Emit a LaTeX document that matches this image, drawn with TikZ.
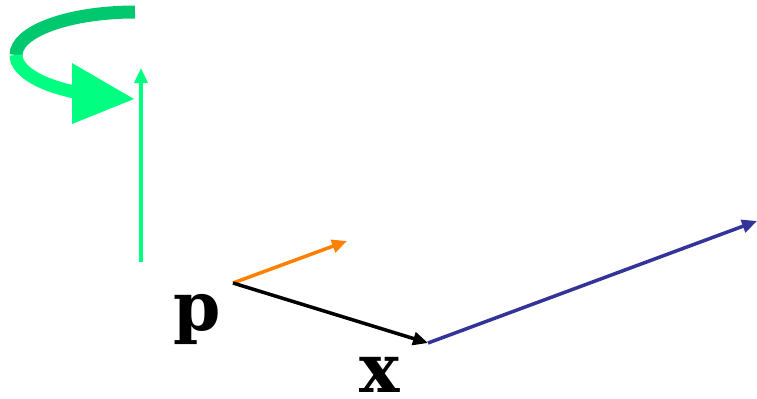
\documentclass[tikz,border=0pt]{standalone}
\usepackage{fontspec}
\setmainfont{DejaVu Serif}
\usetikzlibrary{arrows.meta}
\definecolor{spinDark}{HTML}{00C86E}
\definecolor{spinLight}{HTML}{00FF80}
\definecolor{velOrange}{HTML}{FF8000}
\definecolor{rayBlue}{HTML}{333399}

\begin{document}
\begin{tikzpicture}[x=1bp,y=-1bp]
  \tikzset{
    vec/.style={-{Triangle[length=15bp,width=13bp]},line width=3.5bp},
    lbl/.style={font=\fontsize{68}{68}\selectfont\bfseries,inner sep=0pt}
  }
  \useasboundingbox (0,0) rectangle (757,398);
  % points
  \coordinate (p) at (233,283);
  \coordinate (x) at (428,343);
  \coordinate (v) at (347,241);
  \coordinate (far) at (757,221);
  \coordinate (axisfoot) at (141,262);
  \coordinate (axistop) at (141,68);
  % labels
  \node[lbl,anchor=base] (plabel) at (197,330) {p};
  \node[lbl,anchor=base] (xlabel) at (380,392) {x};
  % rotation ribbon
  \draw[spinDark,line width=13bp] (135,12) arc[start angle=270,end angle=180,x radius=119,y radius=43];
  \draw[spinLight,line width=13bp] (16,55) arc[start angle=180,end angle=114,x radius=119,y radius=43];
  \fill[spinLight] (72,63) -- (134,99) -- (72,124) -- cycle;
  % vectors
  \draw[vec,spinLight] (axisfoot) -- (axistop);
  \draw[vec,velOrange] (p) -- (v);
  \draw[vec,black] (p) -- (x);
  \draw[vec,rayBlue] (x) -- (far);
\end{tikzpicture}
\end{document}
